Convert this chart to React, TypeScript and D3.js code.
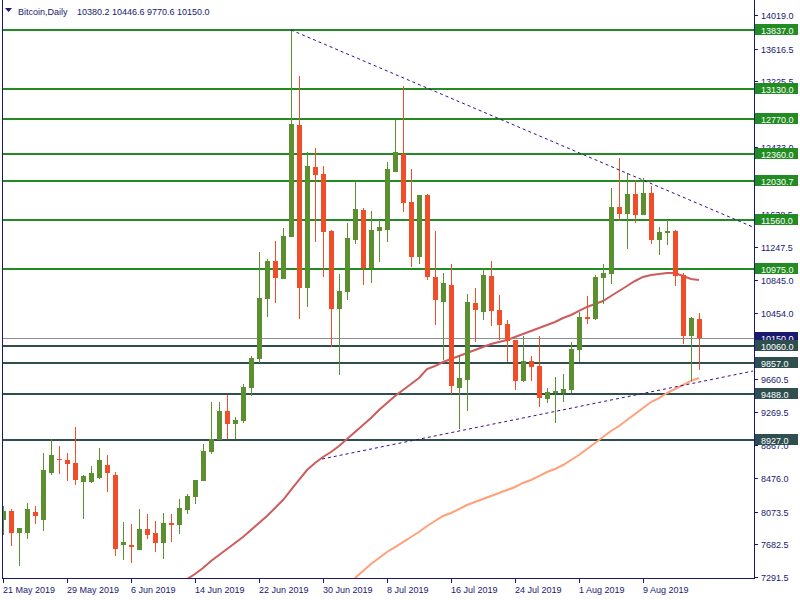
import React from 'react';
import * as d3 from 'd3';

// ---- data ----
const xTickLabels = ["21 May 2019", "29 May 2019", "6 Jun 2019", "14 Jun 2019", "22 Jun 2019", "30 Jun 2019", "8 Jul 2019", "16 Jul 2019", "24 Jul 2019", "1 Aug 2019", "9 Aug 2019"];
const xTickIndex = [0, 8, 16, 24, 32, 40, 48, 56, 64, 72, 80];
const yTicks = [14019.0, 13616.5, 13225.5, 12824.5, 12433.0, 12032.0, 11638.5, 11247.5, 10845.0, 10454.0, 10052.5, 9660.5, 9269.5, 8867.0, 8476.0, 8073.5, 7682.5, 7291.5];

const open = [7974, 8081, 7818, 7818, 8069, 7974, 8536, 8704, 8692, 8656,
  8429, 8429, 8476, 8632, 8512, 7674, 7674, 7615, 7866, 7818,
  7698, 7938, 7914, 8093, 8249, 8441, 8788, 8931, 9279, 9123,
  9159, 9554, 9901, 10619, 11074, 10859, 11361, 12702, 10751, 12199,
  12116, 11433, 10500, 10703, 11326, 11685, 10990, 11433, 11445, 12140,
  12355, 11780, 11122, 11864, 10883, 10583, 10787, 9554, 9650, 10571,
  10464, 10895, 10488, 10320, 10129, 9638, 9877, 9817, 9422, 9494,
  9494, 9530, 10009, 10404, 10380, 10871, 10919, 11721, 11637, 11876,
  11625, 11888, 11326, 11409, 11433, 10907, 10176, 10380.2];
const high = [8141, 8105, 7878, 8177, 8141, 8776, 8943, 8860, 8776, 9087,
  8512, 8620, 8836, 8752, 8548, 7950, 7926, 8105, 8046, 7962,
  8058, 8046, 8225, 8285, 8453, 8884, 9386, 9386, 9470, 9207,
  9602, 9937, 11182, 11098, 11314, 11469, 13840, 13289, 12379, 12427,
  12211, 11445, 10919, 11529, 12020, 11709, 11673, 11565, 12259, 12762,
  13169, 12176, 11864, 11876, 11433, 10930, 11038, 9949, 10679, 10751,
  10978, 11074, 10667, 10368, 10129, 10176, 9937, 10176, 9554, 9686,
  9721, 10105, 10464, 10655, 10907, 11038, 11948, 12307, 12128, 12044,
  12068, 11972, 11481, 11565, 11445, 10931, 10404, 10446.6];
const low = [7794, 7662, 7423, 7746, 7926, 7842, 8512, 8524, 8441, 8393,
  7986, 8417, 8465, 8309, 7543, 7495, 7459, 7615, 7746, 7591,
  7507, 7710, 7806, 8046, 8165, 8441, 8764, 8931, 8943, 8943,
  9135, 9458, 9853, 10404, 10571, 10859, 11361, 10380, 10523, 11302,
  10883, 10045, 9710, 10607, 11278, 10787, 10811, 11062, 11302, 12140,
  11661, 11002, 11038, 10847, 10308, 9889, 9482, 9063, 9279, 10105,
  10368, 10296, 10129, 9865, 9530, 9626, 9638, 9326, 9374, 9135,
  9386, 9494, 9865, 10320, 10368, 10559, 10799, 11553, 11218, 11529,
  11625, 11278, 11146, 11266, 10775, 10081, 9638, 9770.6];
const close = [8081, 7818, 7878, 8105, 8022, 8572, 8752, 8692, 8644, 8453,
  8500, 8536, 8692, 8536, 7627, 7710, 7650, 7866, 7794, 7698,
  7938, 7914, 8117, 8261, 8453, 8800, 8943, 9279, 9123, 9171,
  9566, 9913, 10631, 11074, 10871, 11373, 12714, 10751, 12211, 12104,
  11421, 10500, 10715, 11350, 11697, 10990, 11445, 11481, 12176, 12379,
  11768, 11122, 11864, 10883, 10607, 10811, 9578, 9674, 10583, 10488,
  10907, 10476, 10308, 10117, 9638, 9877, 9805, 9434, 9506, 9518,
  9542, 10021, 10404, 10380, 10883, 10931, 11721, 11637, 11876, 11625,
  11888, 11326, 11421, 11433, 10895, 10176, 10392, 10150.0];

const maRedStart = 23;
const maRed = [7267, 7327, 7399, 7483, 7555, 7627, 7698, 7770, 7854, 7938,
  8022, 8117, 8213, 8333, 8453, 8572, 8656, 8728, 8788, 8860,
  8943, 9027, 9111, 9195, 9291, 9374, 9458, 9530, 9602, 9674,
  9781, 9817, 9865, 9901, 9937, 9973, 10009, 10045, 10081, 10105,
  10129, 10164, 10200, 10236, 10272, 10308, 10344, 10392, 10428, 10476,
  10524, 10559, 10595, 10655, 10715, 10775, 10835, 10883, 10907, 10919,
  10931, 10931, 10895, 10859, 10847];
const maOrangeStart = 44;
const maOrange = [7279, 7363, 7447, 7519, 7591, 7650, 7710, 7770, 7830, 7902,
  7962, 8022, 8058, 8105, 8153, 8189, 8225, 8261, 8297, 8333,
  8369, 8417, 8453, 8500, 8548, 8584, 8632, 8692, 8752, 8824,
  8895, 8967, 9039, 9099, 9171, 9243, 9314, 9386, 9434, 9494,
  9542, 9590, 9638, 9674];

const levelsGreen = [13837.0, 13130.0, 12770.0, 12360.0, 12030.7, 11560.0, 10975.0];
const levelsDark = [10060.0, 9857.0, 9488.0, 8927.0];
const lastPrice = 10150.0;

const trendDown: [number, number][] = [[36, 13840], [93.75, 11481]];
const trendUp: [number, number][] = [[39.875, 8704], [93.75, 9757]];

const headerName = "Bitcoin,Daily";
const headerOHLC = "10380.2 10446.6 9770.6 10150.0";

// ---- styles ----
const FONT = "'Liberation Sans', Arial, sans-serif";
const NAVY = "#191970";
const BULL = "#5b8f2f";
const BEAR = "#f04e28";
const LEVEL_GREEN = "#228b22";
const LEVEL_DARK = "#2f4f4f";

export default function App() {
  const x = d3.scaleLinear().domain([0, 87]).range([3, 699]);
  const y = d3.scaleLinear().domain([7291.5, 14019]).range([577, 15]);
  const plotR = 754;
  const plotB = 579;

  const lineGen = d3.line<[number, number]>().x(d => x(d[0])).y(d => y(d[1]));
  const redPts: [number, number][] = maRed.map((v, i) => [i + maRedStart, v]);
  const orPts: [number, number][] = maOrange.map((v, i) => [i + maOrangeStart, v]);

  const label = (v: number, fill: string, key: string) => {
    const yy = Math.round(y(v));
    return (
      <g key={key}>
        <rect x={755} y={yy - 6} width={43} height={11} fill={fill} />
        <text x={761} y={yy + 3.5} fill="#ffffff" fontSize={9} fontFamily={FONT}>{v.toFixed(1)}</text>
      </g>
    );
  };

  return (
    <svg width={800} height={600} style={{ position: 'fixed', left: 0, top: 0, background: '#fff' }}>
      <defs>
        <clipPath id="plot"><rect x={3} y={0} width={plotR - 3} height={plotB} /></clipPath>
      </defs>
      <rect x={0} y={0} width={800} height={600} fill="#fff" />
      <g clipPath="url(#plot)">
        {/* last price line */}
        <line x1={3} x2={plotR} y1={Math.round(y(lastPrice)) + 0.5} y2={Math.round(y(lastPrice)) + 0.5} stroke="#8a9098" strokeWidth={1} />
        {levelsGreen.map((v, i) => (
          <line key={'lg' + i} x1={3} x2={plotR} y1={Math.round(y(v))} y2={Math.round(y(v))} stroke={LEVEL_GREEN} strokeWidth={2} />
        ))}
        {levelsDark.map((v, i) => (
          <line key={'ld' + i} x1={3} x2={plotR} y1={Math.round(y(v))} y2={Math.round(y(v))} stroke={LEVEL_DARK} strokeWidth={2} />
        ))}
        <path d={lineGen(redPts) || ''} fill="none" stroke="#cd5c5c" strokeWidth={2} />
        <path d={lineGen(orPts) || ''} fill="none" stroke="#ffa07a" strokeWidth={2} />
        {open.map((o, i) => {
          const cx = Math.round(x(i));
          const c = close[i];
          const bull = c >= o;
          const col = bull ? BULL : BEAR;
          const yT = Math.round(y(Math.max(o, c)));
          const yB = Math.round(y(Math.min(o, c)));
          const yH = Math.round(y(high[i]));
          const yL = Math.round(y(low[i]));
          return (
            <g key={'c' + i}>
              <rect x={cx} y={yH} width={1} height={Math.max(1, yL - yH)} fill={col} />
              <rect x={cx - 2} y={yT} width={5} height={Math.max(1, yB - yT)} fill={col} />
            </g>
          );
        })}
        <path d={lineGen(trendDown) || ''} fill="none" stroke="#3a0a8a" strokeWidth={1} strokeDasharray="3,3" />
        <path d={lineGen(trendUp) || ''} fill="none" stroke="#3a0a8a" strokeWidth={1} strokeDasharray="3,3" />
      </g>

      {/* frame */}
      <line x1={2.5} x2={2.5} y1={0} y2={plotB} stroke={NAVY} strokeWidth={1} />
      <line x1={2} x2={plotR + 1} y1={plotB - 0.5} y2={plotB - 0.5} stroke={NAVY} strokeWidth={1} />
      <line x1={plotR + 0.5} x2={plotR + 0.5} y1={0} y2={plotB} stroke={NAVY} strokeWidth={1} />

      {/* y ticks */}
      {yTicks.map((v, i) => {
        const yy = Math.round(y(v)) + 0.5;
        return (
          <g key={'yt' + i}>
            <line x1={plotR} x2={plotR + 4} y1={yy} y2={yy} stroke={NAVY} />
            <text x={761} y={yy + 3} fill={NAVY} fontSize={9} fontFamily={FONT}>{v.toFixed(1)}</text>
          </g>
        );
      })}

      {/* x ticks */}
      {xTickIndex.map((idx, i) => {
        const xx = Math.round(x(idx)) + 0.5;
        return (
          <g key={'xt' + i}>
            <line x1={xx} x2={xx} y1={plotB} y2={plotB + 4} stroke={NAVY} />
            <text x={xx - 0.5} y={593} fill={NAVY} fontSize={9} fontFamily={FONT}>{xTickLabels[i]}</text>
          </g>
        );
      })}

      {/* level labels */}
      {levelsGreen.map((v, i) => label(v, LEVEL_GREEN, 'gl' + i))}
      {label(lastPrice, NAVY, 'last')}
      {levelsDark.map((v, i) => label(v, LEVEL_DARK, 'dl' + i))}

      {/* header */}
      <path d="M5,8 L12,8 L8.5,12 Z" fill={NAVY} />
      <text x={18} y={14.5} fill={NAVY} fontSize={9} fontFamily={FONT}>{headerName}</text>
      <text x={77} y={14.5} fill={NAVY} fontSize={9} fontFamily={FONT}>{headerOHLC}</text>
    </svg>
  );
}
